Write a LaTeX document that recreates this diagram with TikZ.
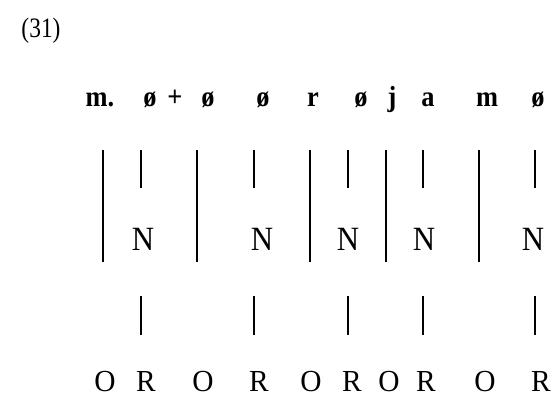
\documentclass[tikz,border=0pt]{standalone}
\usepackage{fontspec}
\setmainfont{Liberation Serif}
\newcommand{\tall}[2][1.1]{\scalebox{1}[#1]{#2}}
\begin{document}
\begin{tikzpicture}[x=1bp,y=-1bp,
  toptxt/.style={anchor=base,inner sep=0pt,font=\fontsize{26.5}{28}\selectfont\bfseries},
  midtxt/.style={anchor=base,inner sep=0pt,font=\fontsize{31}{32}\selectfont},
  bottxt/.style={anchor=base,inner sep=0pt,font=\fontsize{29.5}{30}\selectfont},
  numtxt/.style={anchor=base,inner sep=0pt,font=\fontsize{23.5}{24}\selectfont},
  longbar/.style={line width=1.9bp},
  shortbar/.style={line width=1.6bp}]
\useasboundingbox (0,0) rectangle (558,396);
\node[numtxt] (num) at (41,37) {\tall[1.2]{(31)}};
% top row
\node[toptxt] (t1) at (100,106) {\tall{m.}};
\node[toptxt] (t2) at (150,106) {\tall{ø}};
\node[toptxt] (t3) at (175,106) {\tall{+}};
\node[toptxt] (t4) at (208,106) {\tall{ø}};
\node[toptxt] (t5) at (263,106) {\tall{ø}};
\node[toptxt] (t6) at (313,106) {\tall{r}};
\node[toptxt] (t7) at (361,106) {\tall{ø}};
\node[toptxt] (t8) at (392,106) {\tall{j}};
\node[toptxt] (t9) at (428,106) {\tall{a}};
\node[toptxt] (t10) at (487,106) {\tall{m}};
\node[toptxt] (t11) at (538,106) {\tall{ø}};
% N row
\node[midtxt] (n1) at (143,250) {\tall{N}};
\node[midtxt] (n2) at (262,250) {\tall{N}};
\node[midtxt] (n3) at (348,250) {\tall{N}};
\node[midtxt] (n4) at (424,250) {\tall{N}};
\node[midtxt] (n5) at (533,250) {\tall{N}};
% bottom row
\node[bottxt] (b1) at (105,391) {\tall[1.04]{O}};
\node[bottxt] (b2) at (146,391) {\tall[1.04]{R}};
\node[bottxt] (b3) at (203,391) {\tall[1.04]{O}};
\node[bottxt] (b4) at (259,391) {\tall[1.04]{R}};
\node[bottxt] (b5) at (311,391) {\tall[1.04]{O}};
\node[bottxt] (b6) at (352,391) {\tall[1.04]{R}};
\node[bottxt] (b7) at (389,391) {\tall[1.04]{O}};
\node[bottxt] (b8) at (426,391) {\tall[1.04]{R}};
\node[bottxt] (b9) at (485,391) {\tall[1.04]{O}};
\node[bottxt] (b10) at (541,391) {\tall[1.04]{R}};
% long bars
\foreach \x/\n in {103/1,197/2,310/3,386/4,479/5}{
  \coordinate (la\n) at (\x,150);
  \coordinate (lb\n) at (\x,262);
  \draw[longbar] (la\n) -- (lb\n);
}
% short bars, upper and lower
\foreach \x/\n in {141/1,254/2,348/3,423/4,535/5}{
  \coordinate (ua\n) at (\x,150);
  \coordinate (ub\n) at (\x,188);
  \coordinate (da\n) at (\x,296);
  \coordinate (db\n) at (\x,335);
  \draw[shortbar] (ua\n) -- (ub\n);
  \draw[shortbar] (da\n) -- (db\n);
}
\end{tikzpicture}
\end{document}
